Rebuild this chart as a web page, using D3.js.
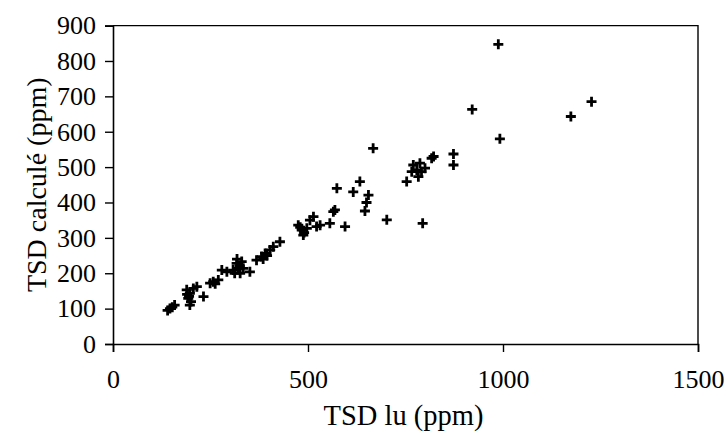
<!DOCTYPE html>
<html>
<head>
<meta charset="utf-8">
<script src="https://cdn.jsdelivr.net/npm/d3@7"></script>
</head>
<body style="margin:0; background:#fff">
<svg id="chart" width="726" height="447"></svg>
<script>
// measured values (TSD lu vs TSD calculé, ppm)
var tsdLu = [140,146,152,158, 189,197,193,206,215,200,197,190,195, 232, 249,257,270,262, 279,292,
  317,321,308,326,330,334,318,312,325, 351, 368,381,390,403,411,428,395,385,
  475,484,488,497,490,480,505,514,522,531, 556,565,569,595, 574,616,633,655,650,646,
  667,702, 753,766,770,779,787,791,783,800, 794, 817,822, 873,873, 921,988,992,1174,1227];
var tsdCalc = [95,100,104,110, 153,143,129,157,162,120,110,140,135, 134, 172,176,181,170, 209,204,
  228,214,209,200,233,214,240,200,220, 204, 237,247,256,266,275,289,250,240,
  336,322,308,327,315,330,350,360,332,336, 341,374,379,332, 440,430,459,421,400,376,
  553,351, 459,487,506,492,511,487,473,497, 341, 525,530, 537,506, 663,847,580,643,685];
var xTicks = [0,500,1000,1500];
var yTicks = [0,100,200,300,400,500,600,700,800,900];

var serif = "Liberation Serif";
// plot area edges
var pL = 113, pR = 698, pT = 25.6, pB = 344;
var svg = d3.select("svg#chart");

var x = d3.scaleLinear().domain([0,1500]).range([pL,pR]);
var y = d3.scaleLinear().domain([0,900]).range([pB,pT]);

// plot border (top and right)
svg.append("path").attr("d", "M"+pL+","+pT+"H"+pR+"V"+pB)
  .attr("fill","none").attr("stroke","#000").attr("stroke-width",1.4);

var xAxis = svg.append("g").attr("transform","translate(0,"+pB+")")
  .call(d3.axisBottom(x).tickValues(xTicks).tickSize(8).tickPadding(18).tickFormat(d3.format("d")));
var yAxis = svg.append("g").attr("transform","translate("+pL+",0)")
  .call(d3.axisLeft(y).tickValues(yTicks).tickSize(8).tickPadding(9).tickFormat(d3.format("d")));

[xAxis, yAxis].forEach(function(a) {
  a.attr("font-family", serif).attr("font-size", 26);
  a.select(".domain").attr("stroke","#000").attr("stroke-width",1.6);
  a.selectAll(".tick line").attr("stroke","#000").attr("stroke-width",1.4);
  a.selectAll(".tick text").attr("fill","#000");
});

// axis titles
svg.append("text").attr("x", (pL+pR)/2 - 2).attr("y", 425).attr("text-anchor","middle")
  .attr("font-family", serif).attr("font-size", 28.5).attr("fill","#000").text("TSD lu (ppm)");
svg.append("text").attr("transform","translate(46,"+((pT+pB)/2)+") rotate(-90)")
  .attr("text-anchor","middle").attr("font-family", serif).attr("font-size", 28)
  .attr("fill","#000").text("TSD calculé (ppm)");

// points
svg.append("g").selectAll("path.pt").data(d3.range(tsdLu.length)).enter().append("path")
  .attr("class","pt")
  .attr("transform", function(i) { return "translate("+x(tsdLu[i])+","+y(tsdCalc[i])+")"; })
  .attr("d","M-5,0H5M0,-5V5")
  .attr("stroke","#000").attr("stroke-width",2.8).attr("fill","none");
</script>
</body>
</html>
